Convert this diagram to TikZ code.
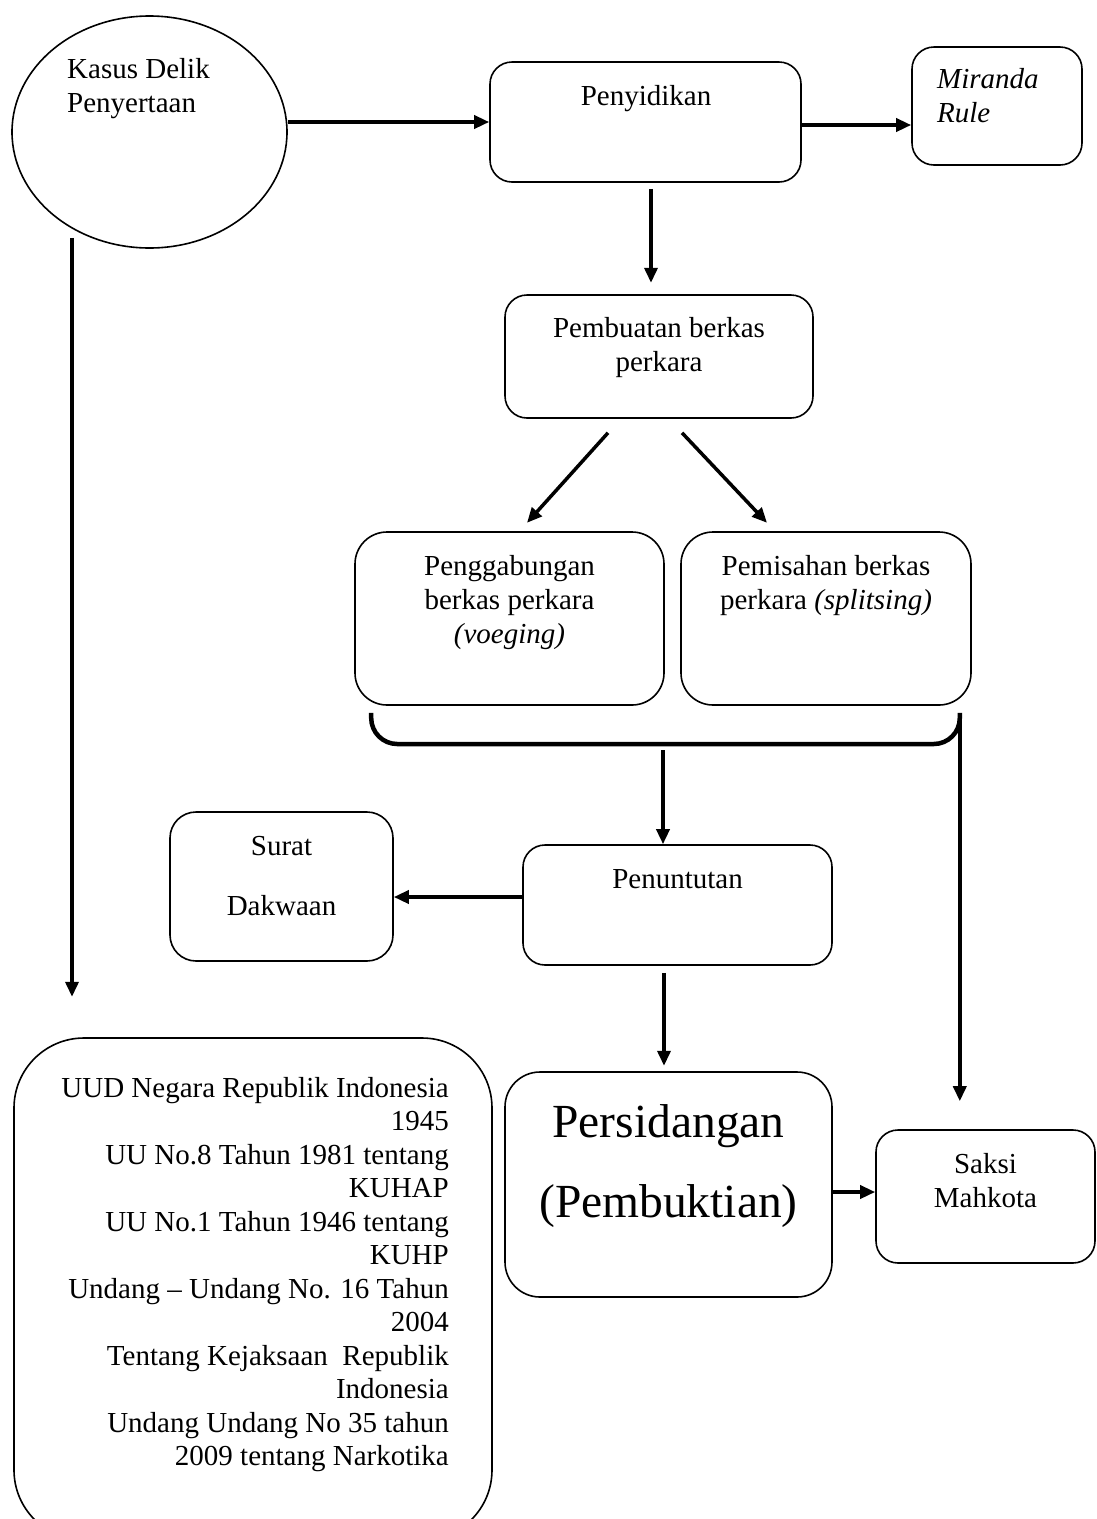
\documentclass[tikz,border=0pt]{standalone}
\usepackage{fontspec}
\setmainfont{Liberation Serif}
\usetikzlibrary{arrows.meta,shapes.geometric}
\begin{document}
\begin{tikzpicture}[x=1pt,y=-1pt,
  box/.style={draw,line width=1.6pt,rounded corners=22pt,inner sep=0pt},
  txt/.style={anchor=base,inner sep=0pt,font=\fontsize{29}{34}\selectfont},
  txtw/.style={anchor=base west,inner sep=0pt,font=\fontsize{29}{34}\selectfont},
  txte/.style={anchor=base east,inner sep=0pt,font=\fontsize{29}{34}\selectfont},
  big/.style={anchor=base,inner sep=0pt,font=\fontsize{47.5}{54}\selectfont},
  arr/.style={line width=3.5pt,-{Triangle[length=15pt,width=13pt]}},
  bracket/.style={line width=4.5pt,rounded corners=26pt}
]
\useasboundingbox (0,0) rectangle (1097,1519);
\begin{scope}
\clip (0,0) rectangle (1097,1519);
% shapes
\node[draw,ellipse,line width=1.6pt,inner sep=0pt,minimum width=275pt,minimum height=232pt] (ell) at (149.5,132) {};
\node[box,minimum width=311pt,minimum height=120pt] (peny) at (645.5,122) {};
\node[box,minimum width=170pt,minimum height=118pt] (mir) at (997,106) {};
\node[box,minimum width=308pt,minimum height=123pt] (pemb) at (659,356.5) {};
\node[box,rounded corners=32pt,minimum width=309pt,minimum height=173pt] (peng) at (509.5,618.5) {};
\node[box,rounded corners=32pt,minimum width=290pt,minimum height=173pt] (pemi) at (826,618.5) {};
\node[box,rounded corners=26pt,minimum width=223pt,minimum height=149pt] (surat) at (281.5,886.5) {};
\node[box,minimum width=309pt,minimum height=120pt] (penu) at (677.5,905) {};
\node[box,rounded corners=35pt,minimum width=327pt,minimum height=225pt] (pers) at (668.5,1184.5) {};
\node[box,minimum width=219pt,minimum height=133pt] (saksi) at (985.5,1196.5) {};
\node[box,rounded corners=70pt,minimum width=478pt,minimum height=502pt] (uud) at (253,1289) {};
\end{scope}
% texts
\node[txtw] (t1) at (67,78) {Kasus Delik};
\node[txtw] (t2) at (67,112) {Penyertaan};
\node[txt] (t3) at (646,105) {Penyidikan};
\node[txtw] (t4) at (937,88) {\itshape Miranda};
\node[txtw] (t5) at (937,122) {\itshape Rule};
\node[txt] (t6) at (659,337) {Pembuatan berkas};
\node[txt] (t7) at (659,371) {perkara};
\node[txt] (t8) at (509.5,575) {Penggabungan};
\node[txt] (t9) at (509.5,609) {berkas perkara};
\node[txt] (t10) at (509.5,643) {\itshape (voeging)};
\node[txt] (t11) at (826,575) {Pemisahan berkas};
\node[txt] (t12) at (826,609) {perkara \textit{(splitsing)}};
\node[txt] (t13) at (281.5,855) {Surat};
\node[txt] (t14) at (281.5,915) {Dakwaan};
\node[txt] (t15) at (677.5,888) {Penuntutan};
\node[big] (t16) at (668.5,1137) {Persidangan};
\node[big] (t17) at (668.5,1217) {(Pembuktian)};
\node[txt] (t18) at (985.5,1173) {Saksi};
\node[txt] (t19) at (985.5,1207) {Mahkota};
\node[txte] (u1) at (449,1097) {UUD Negara Republik Indonesia};
\node[txte] (u2) at (449,1130.5) {1945};
\node[txte] (u3) at (449,1164) {UU No.8 Tahun 1981 tentang};
\node[txte] (u4) at (449,1197.5) {KUHAP};
\node[txte] (u5) at (449,1231) {UU No.1 Tahun 1946 tentang};
\node[txte] (u6) at (449,1264.5) {KUHP};
\node[txte] (u7) at (449,1298) {Undang -- Undang No. 16 Tahun};
\node[txte] (u8) at (449,1331.5) {2004};
\node[txte] (u9) at (449,1365) {Tentang Kejaksaan\ \ Republik};
\node[txte] (u10) at (449,1398.5) {Indonesia};
\node[txte] (u11) at (449,1432) {Undang Undang No 35 tahun};
\node[txte] (u12) at (449,1465.5) {2009 tentang Narkotika};
% connectors
\draw[arr] (ell.east |- peny.west) -- (peny.west);
\draw[arr] ([yshift=-3pt]peny.east) -- ([yshift=-3pt]peny.east -| mir.west);
\draw[arr] ([xshift=5.5pt,yshift=-6pt]peny.south) -- ++(0,94);
\draw[arr] ([xshift=-51pt,yshift=-14pt]pemb.south) -- ++(-81,90);
\draw[arr] ([xshift=23pt,yshift=-14pt]pemb.south) -- ++(85,90);
\coordinate (bl) at ([xshift=17pt,yshift=-7pt]peng.south west);
\coordinate (br) at ([xshift=-12pt,yshift=-7pt]pemi.south east);
\coordinate (bc) at (663,744);
\draw[bracket] (bl) -- (bl |- bc) -- (br |- bc) -- (br);
\draw[arr] ([yshift=-6pt]bc) -- (bc |- penu.north);
\draw[arr,shorten >=28pt] (br) -- (br |- saksi.north);
\draw[arr] ([yshift=8pt]penu.west) -- ([yshift=8pt]penu.west -| surat.east);
\draw[arr] ([xshift=-13.5pt,yshift=-7pt]penu.south) -- ++(0,93);
\draw[arr] ([yshift=-7.5pt]pers.east) -- ([yshift=-7.5pt]pers.east -| saksi.west);
\draw[arr] ([xshift=-77.5pt,yshift=11pt]ell.south) -- ++(0,759);
\end{tikzpicture}
\end{document}
